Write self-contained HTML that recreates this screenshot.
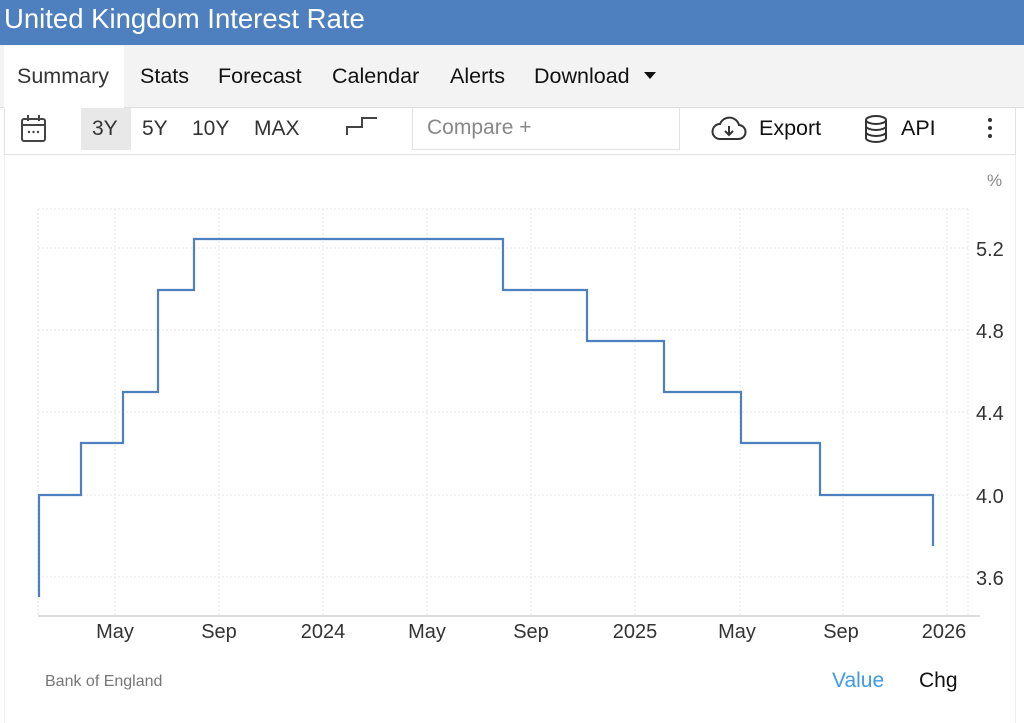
<!DOCTYPE html>
<html><head><meta charset="utf-8"><style>
body{margin:0;width:1024px;height:723px;background:#fff;font-family:"Liberation Sans",Arial,sans-serif;position:relative;overflow:hidden}
.a{position:absolute;white-space:nowrap}
</style></head><body>
<div class="a" style="left:0;top:0;width:1024px;height:45px;background:#4e80bf"></div>
<div class="a" style="left:4px;top:3px;font-size:27.5px;color:#fff">United Kingdom Interest Rate</div>
<div class="a" style="left:0;top:45px;width:1024px;height:62px;background:#f3f3f3;border-bottom:1px solid #ddd"></div>
<div class="a" style="left:4px;top:45px;width:120px;height:63px;background:#fff"></div>
<div class="a" style="left:17px;top:64px;font-size:21.5px;color:#333">Summary</div>
<div class="a" style="left:140px;top:64px;font-size:21.5px;color:#111">Stats</div>
<div class="a" style="left:218px;top:64px;font-size:21.5px;color:#111">Forecast</div>
<div class="a" style="left:332px;top:64px;font-size:21.5px;color:#111">Calendar</div>
<div class="a" style="left:450px;top:64px;font-size:21.5px;color:#111">Alerts</div>
<div class="a" style="left:534px;top:64px;font-size:21.5px;color:#111">Download</div>
<div class="a" style="left:644px;top:72px;width:0;height:0;border-left:6px solid transparent;border-right:6px solid transparent;border-top:7px solid #111"></div>
<div class="a" style="left:4px;top:108px;width:1012px;height:47px;border:1px solid #e3e3e3;border-top:none;box-sizing:border-box"></div>
<svg class="a" style="left:20px;top:114px" width="27" height="29"><rect x="2" y="5" width="23" height="22" rx="2" fill="none" stroke="#444" stroke-width="2"/><line x1="2" y1="11" x2="25" y2="11" stroke="#444" stroke-width="2"/><line x1="8" y1="1" x2="8" y2="7" stroke="#444" stroke-width="2"/><line x1="19" y1="1" x2="19" y2="7" stroke="#444" stroke-width="2"/><circle cx="9" cy="18" r="1.2" fill="#444"/><circle cx="13.5" cy="18" r="1.2" fill="#444"/><circle cx="18" cy="18" r="1.2" fill="#444"/></svg>
<div class="a" style="left:81px;top:108px;width:50px;height:42px;background:#e8e8e8"></div>
<div class="a" style="left:92px;top:117px;font-size:21px;color:#333">3Y</div>
<div class="a" style="left:142px;top:117px;font-size:21px;color:#333">5Y</div>
<div class="a" style="left:192px;top:117px;font-size:21px;color:#333">10Y</div>
<div class="a" style="left:254px;top:117px;font-size:21px;color:#333">MAX</div>
<svg class="a" style="left:345px;top:115px" width="35" height="22"><path d="M2 20V12H17V3H32" fill="none" stroke="#444" stroke-width="2"/></svg>
<div class="a" style="left:412px;top:108px;width:268px;height:42px;border:1px solid #e3e3e3;border-top:none;box-sizing:border-box"></div>
<div class="a" style="left:427px;top:116px;font-size:21px;color:#888">Compare +</div>
<svg class="a" style="left:711px;top:116px" width="36" height="26"><path d="M9 23H27a7 7 0 0 0 1-14 10 10 0 0 0-19-1 7.5 7.5 0 0 0 0 15z" fill="none" stroke="#333" stroke-width="2"/><path d="M18 10v9M14 15l4 4 4-4" fill="none" stroke="#333" stroke-width="2"/></svg>
<div class="a" style="left:759px;top:116px;font-size:21.5px;color:#111">Export</div>
<svg class="a" style="left:863px;top:114px" width="26" height="30"><ellipse cx="13" cy="6" rx="10" ry="4" fill="none" stroke="#333" stroke-width="2"/><path d="M3 6v18c0 2.2 4.5 4 10 4s10-1.8 10-4V6M3 12c0 2.2 4.5 4 10 4s10-1.8 10-4M3 18c0 2.2 4.5 4 10 4s10-1.8 10-4" fill="none" stroke="#333" stroke-width="2"/></svg>
<div class="a" style="left:901px;top:116px;font-size:21.5px;color:#111">API</div>
<div class="a" style="left:988px;top:118px;width:4px;height:4px;border-radius:2px;background:#333;box-shadow:0 8px #333,0 16px #333"></div>
<div class="a" style="left:4px;top:155px;width:1012px;height:568px;border-left:1px solid #eee;border-right:1px solid #eee;box-sizing:border-box"></div>
<svg class="a" style="left:0;top:0" width="1024" height="723">
<g stroke="#e6e6e6" stroke-dasharray="2,2" stroke-width="1">
<line x1="38" y1="209" x2="968" y2="209"/>
<line x1="38" y1="248" x2="968" y2="248"/><line x1="38" y1="330" x2="968" y2="330"/><line x1="38" y1="412" x2="968" y2="412"/><line x1="38" y1="495" x2="968" y2="495"/><line x1="38" y1="577" x2="968" y2="577"/>
<line x1="38" y1="209" x2="38" y2="616"/><line x1="115" y1="209" x2="115" y2="616"/><line x1="219" y1="209" x2="219" y2="616"/><line x1="323" y1="209" x2="323" y2="616"/><line x1="427" y1="209" x2="427" y2="616"/><line x1="531" y1="209" x2="531" y2="616"/><line x1="635" y1="209" x2="635" y2="616"/><line x1="740" y1="209" x2="740" y2="616"/><line x1="843" y1="209" x2="843" y2="616"/><line x1="947" y1="209" x2="947" y2="616"/><line x1="968" y1="209" x2="968" y2="616"/>
</g>
<line x1="38" y1="616" x2="980" y2="616" stroke="#ddd" stroke-width="2"/>
<path d="M39 597V495H81V443H123V392H158V290H194V239H503V290H587V341H664V392H741V443H820V495H933V546" fill="none" stroke="#4e80bf" stroke-width="2.2"/>
<g font-family="Liberation Sans,Arial,sans-serif" font-size="20" fill="#333">
<text x="976" y="256">5.2</text><text x="976" y="338">4.8</text><text x="976" y="420">4.4</text><text x="976" y="503">4.0</text><text x="976" y="585">3.6</text>
<g text-anchor="middle"><text x="115" y="638">May</text><text x="219" y="638">Sep</text><text x="323" y="638">2024</text><text x="427" y="638">May</text><text x="531" y="638">Sep</text><text x="635" y="638">2025</text><text x="737" y="638">May</text><text x="841" y="638">Sep</text><text x="944" y="638">2026</text></g>
</g>
<text x="987" y="186" font-family="Liberation Sans,Arial,sans-serif" font-size="17" fill="#888">%</text>
</svg>
<div class="a" style="left:45px;top:673px;font-size:16px;color:#777">Bank of England</div>
<div class="a" style="left:832px;top:669px;font-size:21px;color:#3c9be8">Value</div>
<div class="a" style="left:919px;top:669px;font-size:21px;color:#111">Chg</div>
</body></html>
